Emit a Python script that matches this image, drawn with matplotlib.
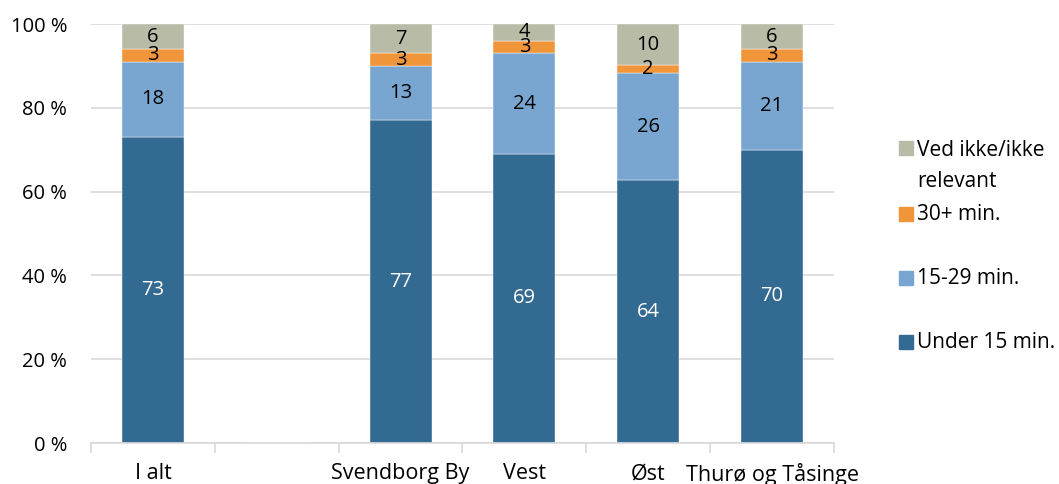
import numpy as np
import matplotlib.pyplot as plt
from matplotlib.patches import Rectangle

plt.rcParams['font.family'] = ['Open Sans', 'DejaVu Sans']

categories = ['I alt', '', 'Svendborg By', 'Vest', 'Øst', 'Thurø og Tåsinge']
under_15 = [73, 0, 77, 69, 64, 70]
min_15_29 = [18, 0, 13, 24, 26, 21]
min_30 = [3, 0, 3, 3, 2, 3]
ved_ikke = [6, 0, 7, 4, 10, 6]

series = [
    ('Under 15 min.', under_15, '#336a91', 'white'),
    ('15-29 min.', min_15_29, '#79a6d0', 'black'),
    ('30+ min.', min_30, '#f0953a', 'black'),
    ('Ved ikke/ikke\nrelevant', ved_ikke, '#b8bca7', 'black'),
]

fig = plt.figure(figsize=(10.59, 4.84), dpi=100)
ax = fig.add_axes([0.0859, 0.0847, 0.7016, 0.8657])

x = np.arange(len(categories))
totals = np.array(under_15) + np.array(min_15_29) + np.array(min_30) + np.array(ved_ikke)
totals = np.where(totals == 0, 1, totals)

bottom = np.zeros(len(categories))
for name, vals, color, tcol in series:
    vals = np.array(vals, dtype=float)
    pct = vals / totals * 100
    ax.bar(x, pct, bottom=bottom, width=0.5, color=color, edgecolor='white',
           linewidth=0.3, zorder=2)
    for xi, v, p, b in zip(x, vals, pct, bottom):
        if v > 0:
            ax.text(xi, b + p / 2, f'{v:.0f}', ha='center', va='center',
                    fontsize=14.5, color=tcol, zorder=3)
    bottom += pct

ax.set_xlim(-0.5, len(categories) - 0.5)
ax.set_ylim(0, 100)
ax.set_yticks(np.arange(0, 101, 20))
ax.set_yticklabels([f'{v} %' for v in range(0, 101, 20)], fontsize=14.5)
ax.yaxis.grid(True, color='#d9d9d9', linewidth=1.2, zorder=0)
ax.set_axisbelow(True)
ax.tick_params(axis='y', length=0, pad=17)

# category labels sit between boundary ticks
ax.set_xticks(np.arange(-0.5, len(categories)), minor=False)
ax.set_xticklabels([])
ax.set_xticks(x, minor=True)
ax.set_xticklabels(categories, minor=True, fontsize=15.5)
ax.tick_params(axis='x', which='major', length=7, color='#d9d9d9', width=1.2)
ax.tick_params(axis='x', which='minor', length=0, pad=14.5)

for s in ['left', 'right', 'top']:
    ax.spines[s].set_visible(False)
ax.spines['bottom'].set_color('#d9d9d9')
ax.spines['bottom'].set_linewidth(1.2)

# legend drawn in figure coordinates
W, H = 1059, 484
legend_rows = [(series[3], 148), (series[2], 214), (series[1], 278), (series[0], 342)]
for (name, vals, color, tcol), ypx in legend_rows:
    fig.add_artist(Rectangle((899 / W, 1 - (ypx + 7) / H), 14 / W, 14 / H,
                             transform=fig.transFigure, color=color))
    if '\n' in name:
        fig.text(917 / W, 1 - (ypx - 8) / H, name, ha='left', va='top',
                 fontsize=15, linespacing=1.6)
    else:
        fig.text(917 / W, 1 - ypx / H, name, ha='left', va='center', fontsize=15)

fig.savefig('out.png', dpi=100)
